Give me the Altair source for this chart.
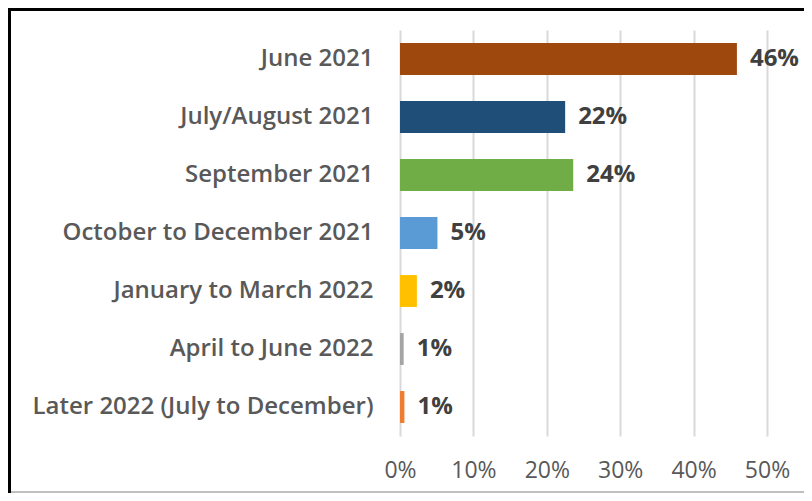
import altair as alt
import pandas as pd

categories = [
    "June 2021",
    "July/August 2021",
    "September 2021",
    "October to December 2021",
    "January to March 2022",
    "April to June 2022",
    "Later 2022 (July to December)",
]
values = [0.459, 0.225, 0.236, 0.051, 0.023, 0.005, 0.006]
labels = ["46%", "22%", "24%", "5%", "2%", "1%", "1%"]
colors = ["#9E480E", "#1F4E79", "#70AD47", "#5B9BD5", "#FFC000", "#A5A5A5", "#ED7D31"]
x_ticks = [0, 0.1, 0.2, 0.3, 0.4, 0.5]

df = pd.DataFrame({"cat": categories, "val": values, "lab": labels, "col": colors})

FONT = "Open Sans"

y_enc = alt.Y(
    "cat:N",
    sort=categories,
    scale=alt.Scale(paddingInner=0.45, paddingOuter=0.225),
    axis=alt.Axis(
        title=None, domain=False, ticks=False, labelPadding=27,
        labelFont=FONT, labelFontSize=24, labelFontWeight=600,
        labelColor="#595959", labelLimit=400,
    ),
)
x_enc = alt.X(
    "val:Q",
    scale=alt.Scale(domain=[0, 0.5], nice=False),
    axis=alt.Axis(
        title=None, domain=False, ticks=False, values=x_ticks, format=".0%",
        labelFont=FONT, labelFontSize=23, labelColor="#595959", labelPadding=23,
        labelFlush=False,
        grid=True, gridColor="#D9D9D9", gridWidth=2,
    ),
)

bars = alt.Chart(df).mark_bar().encode(
    y=y_enc, x=x_enc, color=alt.Color("col:N", scale=None)
)
text = alt.Chart(df).mark_text(
    align="left", baseline="middle", dx=13, font=FONT, fontSize=24,
    fontWeight="bold", color="#404040",
).encode(y=alt.Y("cat:N", sort=categories), x="val:Q", text="lab:N")

border_left = alt.Chart(df).mark_rule(color="black", strokeWidth=3).encode(
    x=alt.value(-390.5), y=alt.value(-22), y2=alt.value(463)
)
border_top = alt.Chart(df).mark_rule(color="black", strokeWidth=3).encode(
    x=alt.value(-392), x2=alt.value(404), y=alt.value(-20.5)
)
bottom_line = alt.Chart(df).mark_rule(color="#BFBFBF", strokeWidth=1.5).encode(
    x=alt.value(-389), x2=alt.value(404), y=alt.value(462)
)

chart = (
    alt.layer(bars, text, border_left, border_top, bottom_line)
    .properties(
        width=367, height=406,
        autosize=alt.AutoSizeParams(type="none"),
        padding={"left": 392, "top": 22, "right": 37, "bottom": 57},
    )
    .configure_view(stroke=None)
)

chart.save("out.html", embed_options={"renderer": "svg", "actions": False})
